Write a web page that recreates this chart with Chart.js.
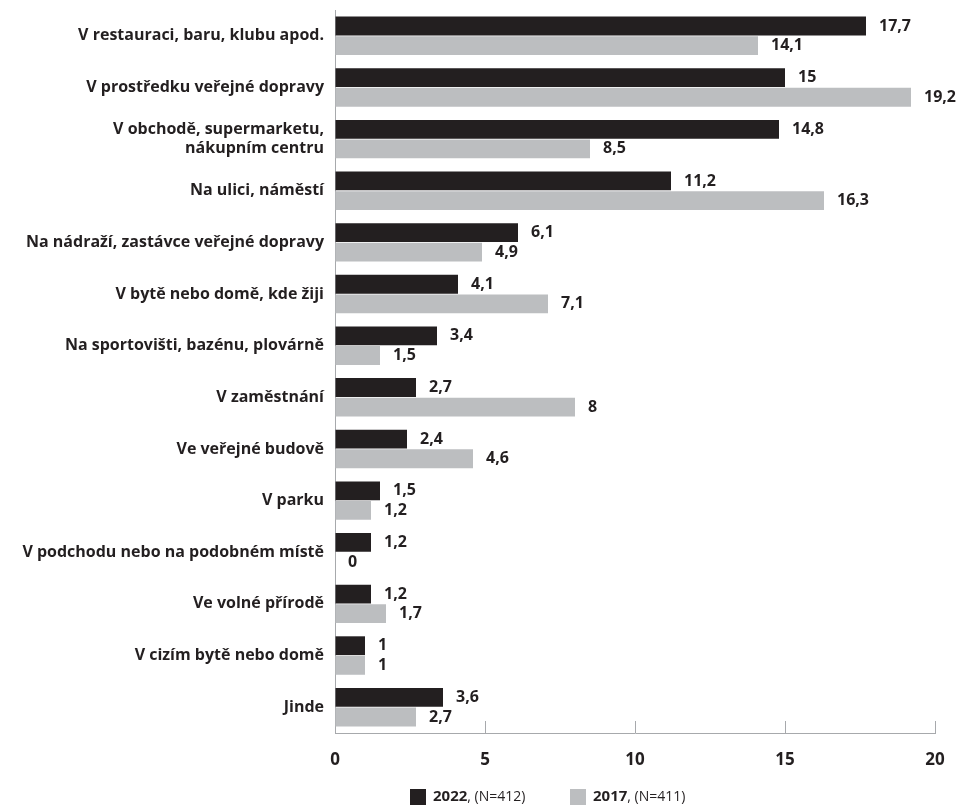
<!DOCTYPE html>
<html>
<head>
<meta charset="utf-8">
<script src="https://cdn.jsdelivr.net/npm/chart.js@4/dist/chart.umd.min.js"></script>
<style>
  html, body { margin: 0; padding: 0; background: #fff; }
  #wrap { width: 959px; height: 808px; }
</style>
</head>
<body>
<div id="wrap"><canvas id="bars" width="959" height="808"></canvas></div>
<script>
// categories and values
var places = [
  "V restauraci, baru, klubu apod.",
  "V prostředku veřejné dopravy",
  ["V obchodě, supermarketu,", "nákupním centru"],
  "Na ulici, náměstí",
  "Na nádraží, zastávce veřejné dopravy",
  "V bytě nebo domě, kde žiji",
  "Na sportovišti, bazénu, plovárně",
  "V zaměstnání",
  "Ve veřejné budově",
  "V parku",
  "V podchodu nebo na podobném místě",
  "Ve volné přírodě",
  "V cizím bytě nebo domě",
  "Jinde"
];
var vals2022 = [17.7, 15, 14.8, 11.2, 6.1, 4.1, 3.4, 2.7, 2.4, 1.5, 1.2, 1.2, 1, 3.6];
var vals2017 = [14.1, 19.2, 8.5, 16.3, 4.9, 7.1, 1.5, 8, 4.6, 1.2, 0, 1.7, 1, 2.7];
var xTicks = [0, 5, 10, 15, 20];
var legendYears = ["2022", "2017"];
var legendNotes = [", (N=412)", ", (N=411)"];

var FONT = "'Open Sans', sans-serif";
var INK = "#231f20";
var AXIS = "#a7a9ac";

function czNum(v) {
  return String(v).replace(".", ",");
}

// value labels at the end of each bar
var barLabels = {
  id: "barLabels",
  afterDatasetsDraw: function(chart) {
    var ctx = chart.ctx;
    ctx.save();
    ctx.font = "bold 16px " + FONT;
    ctx.fillStyle = INK;
    ctx.textAlign = "left";
    ctx.textBaseline = "middle";
    chart.data.datasets.forEach(function(ds, i) {
      var meta = chart.getDatasetMeta(i);
      meta.data.forEach(function(bar, j) {
        ctx.fillText(czNum(ds.data[j]), bar.x + 13, bar.y);
      });
    });
    ctx.restore();
  }
};

// short ticks pointing up from the bottom axis + legend
var extras = {
  id: "extras",
  afterDraw: function(chart) {
    var ctx = chart.ctx;
    var xs = chart.scales.x;
    var bottom = chart.chartArea.bottom;
    ctx.save();
    ctx.strokeStyle = AXIS;
    ctx.lineWidth = 1;
    xTicks.forEach(function(t) {
      if (t === 0) return;
      var px = Math.round(xs.getPixelForValue(t)) + 0.5;
      ctx.beginPath();
      ctx.moveTo(px, bottom - 12);
      ctx.lineTo(px, bottom);
      ctx.stroke();
    });

    // legend
    var lx = [410, 570];
    var ly = 797;
    chart.data.datasets.forEach(function(ds, i) {
      ctx.fillStyle = ds.backgroundColor;
      ctx.fillRect(lx[i], ly - 8, 16, 16);
      ctx.fillStyle = INK;
      ctx.textAlign = "left";
      ctx.textBaseline = "middle";
      ctx.font = "bold 15px " + FONT;
      var x0 = lx[i] + 23;
      ctx.fillText(legendYears[i], x0, ly);
      var w = ctx.measureText(legendYears[i]).width;
      ctx.font = "14px " + FONT;
      ctx.fillText(legendNotes[i], x0 + w, ly);
    });
    ctx.restore();
  }
};

new Chart(document.getElementById("bars"), {
  type: "bar",
  data: {
    labels: places,
    datasets: [
      {
        label: legendYears[0],
        data: vals2022,
        backgroundColor: "#231f20",
        categoryPercentage: 0.76,
        barPercentage: 0.96
      },
      {
        label: legendYears[1],
        data: vals2017,
        backgroundColor: "#bcbec0",
        categoryPercentage: 0.76,
        barPercentage: 0.96
      }
    ]
  },
  options: {
    indexAxis: "y",
    responsive: false,
    animation: false,
    layout: { padding: { top: 10, right: 24, left: 0, bottom: 0 } },
    plugins: {
      legend: { display: false },
      tooltip: { enabled: false }
    },
    scales: {
      x: {
        min: 0,
        max: 20,
        afterBuildTicks: function(scale) {
          scale.ticks = xTicks.map(function(v) { return { value: v }; });
        },
        afterFit: function(scale) {
          scale.height = 75;
          scale.paddingLeft = 0;
          scale.paddingRight = 0;
        },
        grid: { display: true, drawOnChartArea: false, drawTicks: false },
        border: { display: true, color: AXIS, width: 1 },
        ticks: {
          padding: 17,
          color: INK,
          font: { family: FONT, size: 17, weight: "bold" }
        }
      },
      y: {
        afterFit: function(scale) {
          scale.width = 335;
          scale.paddingTop = 0;
          scale.paddingBottom = 0;
        },
        grid: { display: false, drawTicks: false },
        border: { display: true, color: AXIS, width: 1 },
        ticks: {
          padding: 11,
          color: INK,
          font: { family: FONT, size: 16, weight: "bold", lineHeight: 1.15 }
        }
      }
    }
  },
  plugins: [barLabels, extras]
});
</script>
</body>
</html>
